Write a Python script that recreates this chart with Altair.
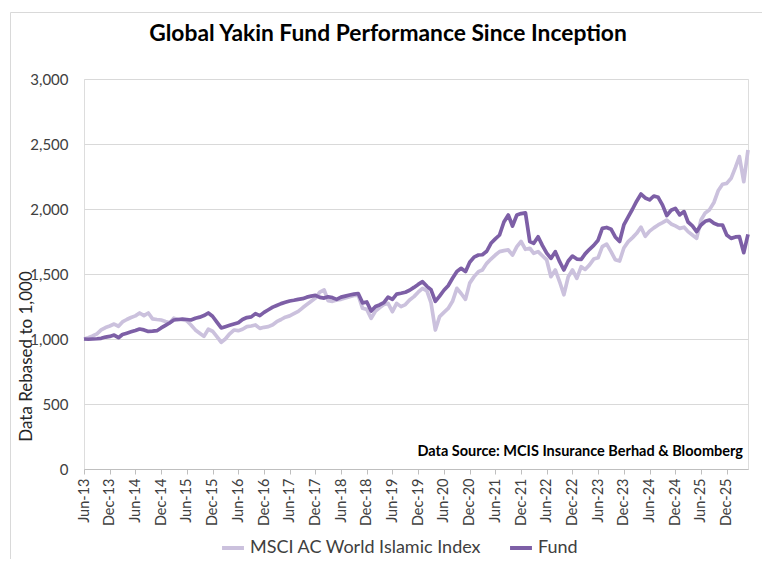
import altair as alt
import pandas as pd

# ---- data (monthly Jun-2013 .. May-2026) ----
start_month = "2013-06-01"
n_months = 156

fund = [
    1000, 998, 1000, 1002, 1005, 1015, 1020,                                  # 2013 Jun-Dec
    1030, 1010, 1035, 1045, 1055, 1065, 1077, 1070, 1058, 1060, 1064, 1085,   # 2014
    1105, 1125, 1146, 1150, 1154, 1150, 1146, 1160, 1168, 1180, 1200, 1175,   # 2015
    1130, 1085, 1095, 1105, 1115, 1125, 1150, 1165, 1170, 1195, 1180, 1205,   # 2016
    1225, 1245, 1258, 1272, 1282, 1292, 1298, 1305, 1310, 1322, 1330, 1336,   # 2017
    1320, 1315, 1325, 1318, 1305, 1322, 1330, 1338, 1345, 1350, 1278, 1285,   # 2018
    1215, 1250, 1262, 1280, 1322, 1305, 1345, 1352, 1360, 1375, 1397, 1420,   # 2019
    1441, 1405, 1380, 1290, 1330, 1375, 1410, 1467, 1520, 1544, 1518, 1590,   # 2020
    1630, 1646, 1648, 1675, 1736, 1770, 1800, 1900, 1954, 1869, 1954, 1965,   # 2021
    1970, 1749, 1736, 1787, 1720, 1660, 1620, 1672, 1595, 1531, 1600, 1638,   # 2022
    1615, 1612, 1655, 1690, 1720, 1760, 1851, 1858, 1845, 1785, 1750, 1877,   # 2023
    1940, 2000, 2060, 2115, 2085, 2070, 2100, 2090, 2030, 1950, 1990, 2005,   # 2024
    1955, 1980, 1900, 1870, 1826, 1877, 1905, 1915, 1890, 1877, 1877, 1800,   # 2025
    1774, 1785, 1787, 1664, 1805,                                             # 2026 Jan-May
]

msci = [
    1000, 1010, 1023, 1040, 1070, 1088, 1100,                                 # 2013 Jun-Dec
    1115, 1098, 1131, 1150, 1165, 1178, 1200, 1180, 1200, 1155, 1150, 1146,   # 2014
    1135, 1125, 1160, 1150, 1148, 1140, 1108, 1070, 1045, 1020, 1075, 1060,   # 2015
    1018, 975, 1000, 1040, 1069, 1064, 1075, 1095, 1100, 1108, 1082, 1090,    # 2016
    1095, 1110, 1133, 1150, 1168, 1178, 1195, 1212, 1240, 1265, 1290, 1315,   # 2017
    1360, 1377, 1295, 1290, 1300, 1305, 1315, 1326, 1335, 1338, 1236, 1228,   # 2018
    1159, 1215, 1240, 1265, 1274, 1210, 1274, 1249, 1265, 1300, 1326, 1360,   # 2019
    1390, 1370, 1280, 1069, 1172, 1205, 1235, 1290, 1390, 1350, 1305, 1430,   # 2020
    1480, 1518, 1531, 1582, 1615, 1646, 1672, 1680, 1685, 1646, 1710, 1750,   # 2021
    1690, 1698, 1659, 1672, 1640, 1608, 1479, 1531, 1440, 1340, 1479, 1531,   # 2022
    1467, 1556, 1535, 1570, 1615, 1625, 1710, 1730, 1672, 1610, 1600, 1700,   # 2023
    1749, 1780, 1813, 1860, 1790, 1830, 1855, 1877, 1895, 1915, 1885, 1870,   # 2024
    1851, 1860, 1826, 1800, 1774, 1915, 1970, 1995, 2050, 2140, 2190, 2197,   # 2025
    2236, 2320, 2403, 2210, 2454,                                             # 2026 Jan-May
]

series_names = ["MSCI AC World Islamic Index", "Fund"]
series_colors = ["#cbc1dd", "#7d5fa6"]
y_ticks = [0, 500, 1000, 1500, 2000, 2500, 3000]
x_tick_years_months = [(y, m) for y in range(2013, 2026) for m in (6, 12)]

title_text = "Global Yakin Fund Performance Since Inception"
y_title = "Data Rebased to 1,000"
source_text = "Data Source: MCIS Insurance Berhad & Bloomberg"

# ---- build table ----
dates = pd.date_range(start_month, periods=n_months, freq="MS").strftime("%Y-%m-%dT00:00:00").tolist()
df = pd.DataFrame({
    "date": dates * 2,
    "value": msci + fund,
    "series": [series_names[0]] * n_months + [series_names[1]] * n_months,
})

FONT = "Lato"
TXT = "#404040"

x_values = [alt.DateTime(year=y, month=m, date=1) for (y, m) in x_tick_years_months]

lines = alt.Chart(df).mark_line(strokeWidth=3.7, strokeJoin="round").encode(
    x=alt.X(
        "date:T",
        scale=alt.Scale(
            domain=[alt.DateTime(year=2013, month=6, date=1), alt.DateTime(year=2026, month=5, date=1)],
            nice=False,
        ),
        axis=alt.Axis(
            values=x_values,
            format="%b-%y",
            labelAngle=270,
            labelFont=FONT,
            labelFontSize=14.5,
            labelColor=TXT,
            labelPadding=4,
            domainColor="#bfbfbf",
            tickColor="#bfbfbf",
            tickSize=5,
            grid=False,
            title=None,
            labelOverlap=False,
        ),
    ),
    y=alt.Y(
        "value:Q",
        scale=alt.Scale(domain=[0, 3000], nice=False),
        axis=alt.Axis(
            values=y_ticks,
            format=",.0f",
            grid=True,
            gridColor="#d9d9d9",
            gridWidth=1,
            domain=False,
            ticks=False,
            tickSize=0,
            labelPadding=16,
            labelFont=FONT,
            labelFontSize=15,
            labelColor=TXT,
            title=y_title,
            titleFont=FONT,
            titleFontSize=17,
            titleFontWeight="normal",
            titleColor="#262626",
            titleAngle=270,
            titleAlign="center",
            titleBaseline="middle",
            titleX=-58,
            titleY=277,
        ),
    ),
    color=alt.Color(
        "series:N",
        scale=alt.Scale(domain=series_names, range=series_colors),
        legend=alt.Legend(
            title=None,
            orient="none",
            legendX=136,
            legendY=456,
            direction="horizontal",
            symbolType="stroke",
            symbolStrokeWidth=4,
            symbolSize=480,
            labelFont=FONT,
            labelFontSize=18,
            labelColor=TXT,
            labelLimit=400,
            columnPadding=20,
        ),
    ),
)

note = alt.Chart(pd.DataFrame({"t": [source_text]})).mark_text(
    font=FONT, fontSize=14.5, fontWeight="bold", color="black", align="right", baseline="middle"
).encode(text="t:N", x=alt.value(659), y=alt.value(373))

# light outer frame of the chart area
frame = alt.Chart(pd.DataFrame({"t": [0]})).mark_rect(
    fill="white", fillOpacity=0, stroke="#d9d9d9", strokeWidth=1
).encode(x=alt.value(-73.5), x2=alt.value(680.5), y=alt.value(-66.5), y2=alt.value(520))

chart = alt.layer(frame, lines, note).properties(
    width=664,
    height=390,
    padding={"left": 76, "top": 71, "right": 14, "bottom": 90},
    autosize=alt.AutoSizeParams(type="none"),
    title=alt.TitleParams(
        title_text, font=FONT, fontSize=22.8, fontWeight="bold", color="black",
        anchor="middle", dx=-28, offset=-34,
    ),
).configure_view(stroke=None).configure(background="white")

chart.save("out.html", embed_options={"renderer": "svg", "actions": False})
